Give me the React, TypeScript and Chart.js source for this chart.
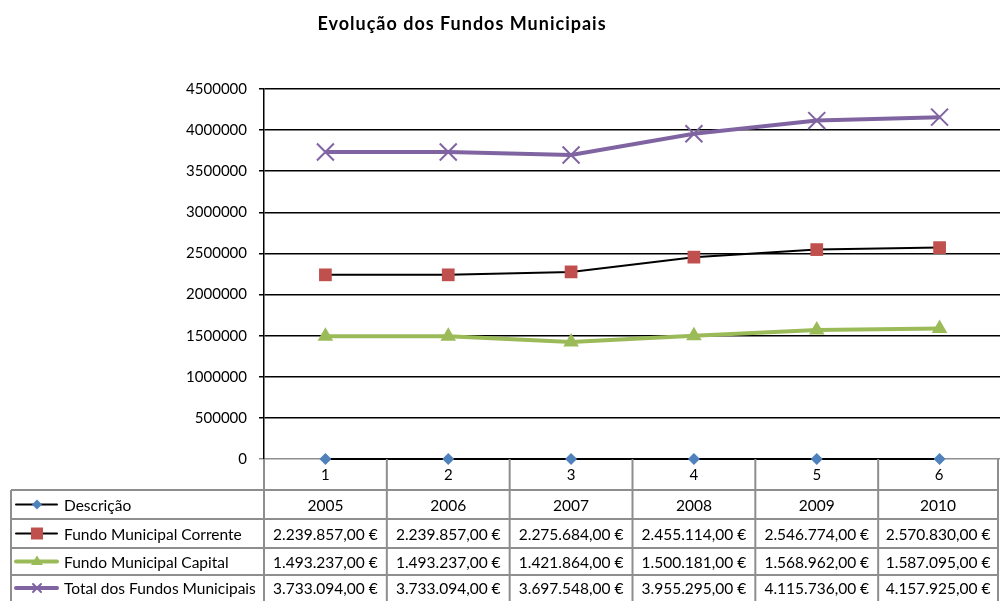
import React, { useEffect, useRef } from "react";
import { Chart, registerables } from "chart.js";

Chart.register(...registerables);

const TITLE = "Evolução dos Fundos Municipais";
const categories = ["1", "2", "3", "4", "5", "6"];
const years = ["2005", "2006", "2007", "2008", "2009", "2010"];
const descricaoValues = [0, 0, 0, 0, 0, 0];
const correnteValues = [2239857, 2239857, 2275684, 2455114, 2546774, 2570830];
const capitalValues = [1493237, 1493237, 1421864, 1500181, 1568962, 1587095];
const totalValues = [3733094, 3733094, 3697548, 3955295, 4115736, 4157925];
const seriesNames = [
  "Descrição",
  "Fundo Municipal Corrente",
  "Fundo Municipal Capital",
  "Total dos Fundos Municipais",
];
const yMin = 0;
const yMax = 4500000;
const yStep = 500000;

const BLUE = "#4F81BD";
const RED = "#C0504D";
const GREEN = "#9BBB59";
const PURPLE = "#8064A2";
const GRAY = "#8e8e8e";
const FONT = "Lato, 'Open Sans', sans-serif";

function formatEuro(v: number): string {
  const s = Math.round(v).toString();
  const parts: string[] = [];
  for (let i = s.length; i > 0; i -= 3) parts.unshift(s.substring(Math.max(0, i - 3), i));
  return parts.join(".") + ",00 €";
}

function drawMarker(ctx: CanvasRenderingContext2D, kind: string, x: number, y: number, r: number, color: string) {
  ctx.save();
  ctx.fillStyle = color;
  ctx.strokeStyle = color;
  ctx.beginPath();
  if (kind === "diamond") {
    ctx.moveTo(x, y - r);
    ctx.lineTo(x + r, y);
    ctx.lineTo(x, y + r);
    ctx.lineTo(x - r, y);
    ctx.closePath();
    ctx.fill();
  } else if (kind === "square") {
    ctx.rect(x - r, y - r, 2 * r, 2 * r);
    ctx.fill();
  } else if (kind === "triangle") {
    ctx.moveTo(x, y - r);
    ctx.lineTo(x + r, y + r * 0.6);
    ctx.lineTo(x - r, y + r * 0.6);
    ctx.closePath();
    ctx.fill();
  } else if (kind === "cross") {
    ctx.lineWidth = 2;
    ctx.moveTo(x - r, y - r);
    ctx.lineTo(x + r, y + r);
    ctx.moveTo(x + r, y - r);
    ctx.lineTo(x - r, y + r);
    ctx.stroke();
  }
  ctx.restore();
}

const tablePlugin = {
  id: "dataTablePlugin",
  afterDraw(chart: any) {
    const ctx: CanvasRenderingContext2D = chart.ctx;
    const xScale = chart.scales.x;
    const { left, right, bottom } = chart.chartArea;
    const n = categories.length;
    const colW = (right - left) / n;
    const tableLeft = 11;
    const tableRight = 998;
    const catBottom = 490;
    const rowLines = [490, 519, 548, 575, 603];

    ctx.save();
    // Title
    ctx.fillStyle = "#000";
    ctx.font = `bold 18px ${FONT}`;
    (ctx as any).letterSpacing = "1px";
    ctx.textAlign = "center";
    ctx.textBaseline = "middle";
    ctx.fillText(TITLE, 462, 24);
    (ctx as any).letterSpacing = "0px";

    // grid of table
    ctx.strokeStyle = GRAY;
    ctx.lineWidth = 2;
    ctx.beginPath();
    for (let k = 0; k <= n; k++) {
      let x = left + k * colW;
      if (x > tableRight) x = tableRight;
      ctx.moveTo(x, bottom);
      ctx.lineTo(x, rowLines[rowLines.length - 1]);
    }
    ctx.moveTo(tableRight, bottom);
    ctx.lineTo(tableRight, rowLines[rowLines.length - 1]);
    ctx.moveTo(tableLeft, rowLines[0]);
    ctx.lineTo(tableLeft, rowLines[rowLines.length - 1]);
    for (const y of rowLines) {
      ctx.moveTo(tableLeft, y);
      ctx.lineTo(tableRight, y);
    }
    ctx.stroke();

    // category labels
    ctx.fillStyle = "#000";
    ctx.font = `15px ${FONT}`;
    ctx.textAlign = "center";
    ctx.textBaseline = "middle";
    const colCenter = (i: number) => {
      const a = left + i * colW;
      const b = Math.min(left + (i + 1) * colW, tableRight);
      return (a + b) / 2;
    };
    categories.forEach((c, i) => {
      ctx.fillText(c, Math.min(xScale.getPixelForValue(i), colCenter(i) + 1), (bottom + catBottom) / 2 + 1);
    });

    const rows: string[][] = [
      years,
      correnteValues.map(formatEuro),
      capitalValues.map(formatEuro),
      totalValues.map(formatEuro),
    ];
    ctx.font = `15.5px ${FONT}`;
    rows.forEach((row, r) => {
      const yc = (rowLines[r] + Math.min(rowLines[r + 1], 601)) / 2 + 1;
      row.forEach((txt, i) => {
        ctx.fillText(txt, colCenter(i), yc);
      });
    });

    // legend keys + names
    const keys = [
      { line: "#000", lw: 2, kind: "diamond", r: 5, color: BLUE },
      { line: "#000", lw: 2, kind: "square", r: 6, color: RED },
      { line: GREEN, lw: 4, kind: "triangle", r: 6, color: GREEN },
      { line: PURPLE, lw: 4, kind: "cross", r: 4, color: PURPLE },
    ];
    ctx.textAlign = "left";
    seriesNames.forEach((name, r) => {
      const yc = (rowLines[r] + Math.min(rowLines[r + 1], 601)) / 2;
      const k = keys[r];
      ctx.strokeStyle = k.line;
      ctx.lineWidth = k.lw;
      ctx.lineCap = "round";
      ctx.beginPath();
      ctx.moveTo(16, yc);
      ctx.lineTo(57, yc);
      ctx.stroke();
      drawMarker(ctx, k.kind, 37, yc, k.r, k.color);
      ctx.fillStyle = "#000";
      ctx.fillText(name, 64, yc + 1);
    });
    ctx.restore();
  },
};

export default function App() {
  const canvasRef = useRef<HTMLCanvasElement | null>(null);

  useEffect(() => {
    if (!canvasRef.current) return;
    const chart = new Chart(canvasRef.current, {
      type: "line",
      data: {
        labels: categories,
        datasets: [
          {
            label: seriesNames[0],
            data: descricaoValues,
            borderColor: "#000",
            borderWidth: 2,
            pointStyle: "rectRot",
            pointRadius: 6,
            pointBackgroundColor: BLUE,
            pointBorderColor: BLUE,
            pointBorderWidth: 0,
            clip: false,
            order: 4,
          },
          {
            label: seriesNames[1],
            data: correnteValues,
            borderColor: "#000",
            borderWidth: 2,
            pointStyle: "rect",
            pointRadius: 9,
            pointBackgroundColor: RED,
            pointBorderColor: RED,
            pointBorderWidth: 0,
            clip: false,
            order: 3,
          },
          {
            label: seriesNames[2],
            data: capitalValues,
            borderColor: GREEN,
            borderWidth: 4,
            pointStyle: "triangle",
            pointRadius: 9,
            pointBackgroundColor: GREEN,
            pointBorderColor: GREEN,
            pointBorderWidth: 0,
            clip: false,
            order: 2,
          },
          {
            label: seriesNames[3],
            data: totalValues,
            borderColor: PURPLE,
            borderWidth: 4,
            pointStyle: "crossRot",
            pointRadius: 12,
            pointBackgroundColor: PURPLE,
            pointBorderColor: PURPLE,
            pointBorderWidth: 2,
            clip: false,
            order: 1,
          },
        ],
      },
      options: {
        responsive: false,
        animation: false,
        devicePixelRatio: 1,
        layout: { autoPadding: false, padding: { left: 0, right: 0, top: 89, bottom: 142 } },
        plugins: {
          legend: { display: false },
          title: { display: false },
          tooltip: { enabled: false },
        },
        scales: {
          x: {
            type: "category",
            display: false,
            offset: true,
          },
          y: {
            min: yMin,
            max: yMax,
            afterFit: (scale: any) => {
              scale.width = 264;
            },
            ticks: {
              stepSize: yStep,
              color: "#000",
              padding: 12,
              font: { family: FONT, size: 15 },
              callback: (v: any) => String(v),
            },
            grid: {
              color: (c: any) => (c.tick && c.tick.value === 0 ? GRAY : "#000"),
              lineWidth: 1.5,
              tickLength: 5,
              drawTicks: true,
            },
            border: { display: true, color: "#000", width: 1.5 },
          },
        },
      },
      plugins: [tablePlugin],
    });
    return () => chart.destroy();
  }, []);

  return (
    <div style={{ position: "fixed", left: 0, top: 0, width: 1000, height: 601, overflow: "hidden", background: "#fff" }}>
      <canvas ref={canvasRef} width={1001} height={601} style={{ display: "block", width: 1001, height: 601 }} />
    </div>
  );
}
